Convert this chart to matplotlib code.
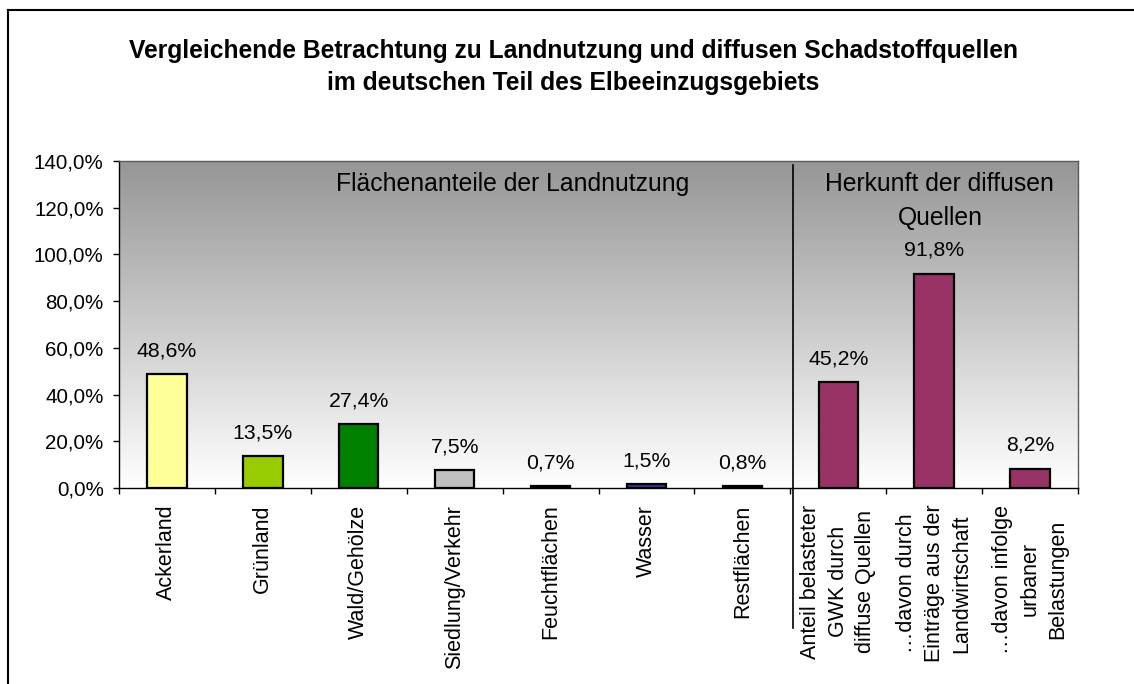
import numpy as np
import matplotlib
matplotlib.use('Agg')
import matplotlib.pyplot as plt
from matplotlib.lines import Line2D
from matplotlib import transforms

plt.rcParams['font.family'] = ['Liberation Sans', 'DejaVu Sans']

categories = [
    'Ackerland', 'Grünland', 'Wald/Gehölze', 'Siedlung/Verkehr', 'Feuchtflächen',
    'Wasser', 'Restflächen',
    'Anteil belasteter\nGWK durch\ndiffuse Quellen',
    '…davon durch\nEinträge aus der\nLandwirtschaft',
    '…davon infolge\nurbaner\nBelastungen',
]
values = [48.6, 13.5, 27.4, 7.5, 0.7, 1.5, 0.8, 45.2, 91.8, 8.2]
colors = ['#FFFF99', '#99CC00', '#008000', '#C0C0C0', '#1a1a1a',
          '#333399', '#1a1a1a', '#993366', '#993366', '#993366']
yticks = [0, 20, 40, 60, 80, 100, 120, 140]

title = ('Vergleichende Betrachtung zu Landnutzung und diffusen Schadstoffquellen\n'
         'im deutschen Teil des Elbeeinzugsgebiets')


def pct(v):
    return f'{v:.1f}%'.replace('.', ',')


fig = plt.figure(figsize=(11.34, 6.84), dpi=100)
ax = fig.add_axes([119 / 1134, 1 - 488 / 684, (1078 - 119) / 1134, (488 - 161) / 684])

x = np.arange(len(categories))
ax.set_xlim(-0.5, len(categories) - 0.5)
ax.set_ylim(0, 140)

# gray-to-white gradient in the plot area
grad = np.linspace(0, 1, 256).reshape(-1, 1)
ax.imshow(grad, extent=[0, 1, 0, 1], transform=ax.transAxes, aspect='auto',
          cmap=matplotlib.colors.LinearSegmentedColormap.from_list(
              'bg', ['#ffffff', '#969696']),
          origin='lower', zorder=0)

ax.bar(x, values, width=0.41, color=colors, edgecolor='black', linewidth=1.6, zorder=2)

for xi, v in zip(x, values):
    ax.annotate(pct(v), (xi, v), xytext=(0, 10), textcoords='offset points',
                ha='center', va='bottom', fontsize=15.3, zorder=3)

ax.set_yticks(yticks)
ax.set_yticklabels([pct(v) for v in yticks], fontsize=14.8)
ax.tick_params(axis='y', direction='out', length=4, width=1, pad=7)

ax.set_xticks(x)
ax.set_xticklabels(categories, rotation=90, fontsize=15.5, ha='center', va='top',
                   multialignment='center', linespacing=1.4)
ax.set_xticks(np.arange(-0.5, len(categories)), minor=True)
ax.tick_params(axis='x', which='major', length=0, pad=12)
ax.tick_params(axis='x', which='minor', direction='out', length=4, width=1)

for side in ['top', 'right']:
    ax.spines[side].set_color('#5a5a5a')
    ax.spines[side].set_linewidth(1)
for side in ['left', 'bottom']:
    ax.spines[side].set_color('black')
    ax.spines[side].set_linewidth(1)

mixed = transforms.blended_transform_factory(ax.transData, ax.transAxes)

# separator between the two groups
ax.plot([6.53, 6.53], [0.988, -0.428], color='black', linewidth=1.2,
        transform=mixed, clip_on=False, zorder=4)

ax.text(3.6, 0.93, 'Flächenanteile der Landnutzung', transform=mixed,
        ha='center', va='center', fontsize=17.8)
ax.text(8.06, 0.879, 'Herkunft der diffusen\nQuellen', transform=mixed,
        ha='center', va='center', fontsize=17.8, linespacing=1.52)

fig.text(573 / 1134, 1 - 67 / 684, title, ha='center', va='center',
         fontsize=17.7, fontweight='bold', linespacing=1.43)

# chart border (left and top edges visible)
fig.add_artist(Line2D([8 / 1134, 8 / 1134], [0, 1 - 10 / 684], color='black', linewidth=1.5))
fig.add_artist(Line2D([8 / 1134, 1], [1 - 10 / 684, 1 - 10 / 684], color='black', linewidth=1.5))

fig.savefig('out.png', dpi=100)
